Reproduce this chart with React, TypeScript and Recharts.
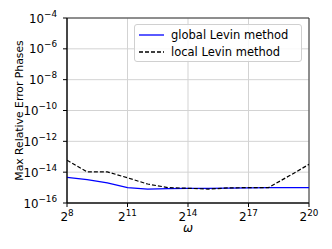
import { LineChart, Line, XAxis, YAxis, CartesianGrid, ReferenceArea } from 'recharts';

// omega = 2^n, n = 8..20
const exponents = [8, 9, 10, 11, 12, 13, 14, 15, 16, 17, 18, 19, 20];
const globalLevin = [4.6e-15, 3.3e-15, 2.0e-15, 1.0e-15, 8.0e-16, 8.5e-16, 8.8e-16, 9.0e-16, 9.2e-16, 9.5e-16, 1.0e-15, 1.0e-15, 1.0e-15];
const localLevin = [6.0e-14, 1.05e-14, 1.05e-14, 4.3e-15, 1.7e-15, 1.0e-15, 9.0e-16, 8.0e-16, 9.5e-16, 1.0e-15, 1.0e-15, 5.6e-15, 3.2e-14];

const xTickExps = [8, 11, 14, 17, 20];
const yTickExps = [-16, -14, -12, -10, -8, -6, -4];

const data = exponents.map((n, i) => ({
  omega: Math.pow(2, n),
  global: globalLevin[i],
  local: localLevin[i],
}));

const FONT = '"DejaVu Sans", sans-serif';

function YTick({ x, y, payload }: any) {
  const e = Math.round(Math.log10(payload.value));
  return (
    <text x={x - 4} y={y + 4.5} textAnchor="end" fontFamily={FONT} fontSize={11.8} fill="#000">
      10
      <tspan dy={-6} fontSize={8.8}>{e < 0 ? '\u2212' + Math.abs(e) : e}</tspan>
    </text>
  );
}

function XTick({ x, y, payload }: any) {
  const e = Math.round(Math.log2(payload.value));
  return (
    <text x={x} y={y + 12} textAnchor="middle" fontFamily={FONT} fontSize={12} fill="#000">
      2
      <tspan dy={-5} fontSize={8.8}>{e}</tspan>
    </text>
  );
}

function YLabel({ viewBox }: any) {
  const cx = 19;
  const cy = viewBox.y + viewBox.height / 2;
  return (
    <text
      x={cx}
      y={cy}
      transform={`rotate(-90, ${cx}, ${cy})`}
      textAnchor="middle"
      dominantBaseline="central"
      fontFamily={FONT}
      fontSize={10.8}
      fill="#000"
    >
      Max Relative Error Phases
    </text>
  );
}

function LegendBox() {
  const rows = [
    { label: 'global Levin method', color: '#0000ff', dash: undefined },
    { label: 'local Levin method', color: '#000', dash: '4 2' },
  ];
  return (
    <div
      style={{
        position: 'absolute',
        left: 134,
        top: 24,
        width: 168,
        height: 38,
        border: '1px solid #d0d0d0',
        borderRadius: 3,
        background: 'rgba(255,255,255,0.85)',
        fontFamily: FONT,
        fontSize: 11.5,
        boxSizing: 'border-box',
        paddingTop: 1,
      }}
    >
      {rows.map((r) => (
        <div key={r.label} style={{ display: 'flex', alignItems: 'center', height: 17 }}>
          <svg width={36} height={10} style={{ flex: 'none' }}>
            <line x1={4} x2={29} y1={5} y2={5} stroke={r.color} strokeWidth={1.3} strokeDasharray={r.dash} />
          </svg>
          <span style={{ whiteSpace: 'nowrap' }}>{r.label}</span>
        </div>
      ))}
    </div>
  );
}

export default function App() {
  return (
    <div style={{ position: 'absolute', left: 0, top: 0, width: 332, height: 249, background: '#fff' }}>
      <LineChart width={332} height={249} data={data} margin={{ top: 18, right: 23, left: 0, bottom: 16 }}>
        <CartesianGrid stroke="#d3d3d3" strokeWidth={1} />
        <XAxis
          dataKey="omega"
          type="number"
          scale="log"
          domain={[256, 1048576]}
          ticks={xTickExps.map((n) => Math.pow(2, n))}
          interval={0}
          allowDataOverflow
          height={30}
          tick={<XTick />}
          tickSize={4}
          tickLine={{ stroke: '#000' }}
          axisLine={{ stroke: '#000' }}
          label={{ value: '\u03c9', position: 'insideBottom', offset: 1, fontStyle: 'italic', fontFamily: FONT, fontSize: 12, fill: '#000' }}
        />
        <YAxis
          type="number"
          scale="log"
          domain={[1e-16, 1e-4]}
          ticks={yTickExps.map((e) => Math.pow(10, e))}
          interval={0}
          allowDataOverflow
          width={67}
          tick={<YTick />}
          tickSize={4}
          tickLine={{ stroke: '#000' }}
          axisLine={{ stroke: '#000' }}
          label={<YLabel />}
        />
        <ReferenceArea x1={256} x2={1048576} y1={1e-16} y2={1e-4} fill="none" stroke="#333" strokeWidth={1} ifOverflow="visible" />
        <Line dataKey="global" stroke="#0000ff" strokeWidth={1.3} dot={false} isAnimationActive={false} />
        <Line dataKey="local" stroke="#000" strokeWidth={1.2} strokeDasharray="4 2" dot={false} isAnimationActive={false} />
      </LineChart>
      <LegendBox />
    </div>
  );
}
